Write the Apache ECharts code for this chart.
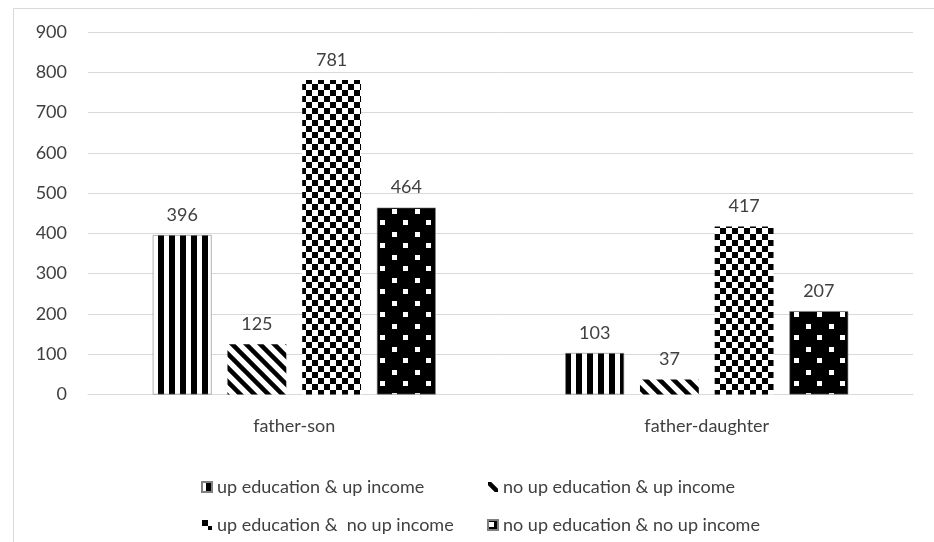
<!DOCTYPE html>
<html>
<head>
<meta charset="utf-8">
<script src="https://cdn.jsdelivr.net/npm/echarts@6/dist/echarts.min.js"></script>
<style>
  html, body { margin: 0; padding: 0; background: #fff; }
  #chart { width: 934px; height: 542px; }
</style>
</head>
<body>
<div id="chart"></div>
<script>
// data
var categories = ['father-son', 'father-daughter'];
var seriesNames = [
  'up education & up income',
  'no up education & up income',
  'up education &  no up income',
  'no up education & no up income'
];
var upEduUpInc = [396, 103];
var noEduUpInc = [125, 37];
var upEduNoInc = [781, 417];
var noEduNoInc = [464, 207];

// pattern tiles (anchored to the canvas origin, like Excel)
function tile(w, h, draw) {
  var c = document.createElement('canvas');
  c.width = w; c.height = h;
  var ctx = c.getContext('2d');
  ctx.fillStyle = '#fff';
  ctx.fillRect(0, 0, w, h);
  draw(ctx);
  return { image: c, repeat: 'repeat' };
}
var stripes = tile(11, 11, function (ctx) {
  ctx.fillStyle = '#000';
  ctx.fillRect(4, 0, 6, 11);
});
var diagonal = tile(14, 14, function (ctx) {
  ctx.strokeStyle = '#000';
  ctx.lineWidth = 4.5;
  ctx.beginPath();
  ctx.moveTo(-14, -14); ctx.lineTo(28, 28);
  ctx.moveTo(-14, 0); ctx.lineTo(14, 28);
  ctx.moveTo(0, -14); ctx.lineTo(28, 14);
  ctx.stroke();
});
var checker = tile(12, 12, function (ctx) {
  ctx.fillStyle = '#000';
  ctx.fillRect(0, 0, 6, 6);
  ctx.fillRect(6, 6, 6, 6);
});
var dots = tile(23, 23, function (ctx) {
  ctx.fillStyle = '#000';
  ctx.fillRect(0, 0, 23, 23);
  ctx.fillStyle = '#fff';
  ctx.fillRect(1, 2, 5, 5);
  ctx.fillRect(12, 13, 5, 5);
});

var fills = [stripes, diagonal, checker, dots];
var values = [upEduUpInc, noEduUpInc, upEduNoInc, noEduNoInc];
var font = 'Lato';

var series = values.map(function (v, i) {
  return {
    name: seriesNames[i],
    type: 'bar',
    data: v,
    barGap: '27%',
    barCategoryGap: '31.4%',
    itemStyle: {
      color: fills[i],
      borderColor: (i === 0 || i === 3) ? '#808080' : 'transparent',
      borderWidth: (i === 0 || i === 3) ? 0.6 : 0
    },
    label: {
      show: true,
      position: 'top',
      distance: 11,
      color: '#404040',
      fontFamily: font,
      fontSize: 18
    },
    emphasis: { disabled: true }
  };
});

var legendText = { color: '#404040', fontFamily: font, fontSize: 18, lineHeight: 20 };

var chart = echarts.init(document.getElementById('chart'));
chart.setOption({
  animation: false,
  backgroundColor: '#fff',
  graphic: [{
    type: 'rect',
    z: -10,
    shape: { x: 13.5, y: 8.5, width: 1000, height: 1000 },
    style: { fill: 'none', stroke: '#d9d9d9', lineWidth: 1 }
  }],
  grid: { left: 88, right: 21, top: 32, bottom: 147.5 },
  legend: [{
    orient: 'vertical',
    left: 196,
    top: 472,
    itemGap: 18,
    itemWidth: 10,
    itemHeight: 10,
    itemTextGap: 6,
    icon: 'rect',
    data: [seriesNames[0], seriesNames[2]],
    textStyle: legendText
  }, {
    orient: 'vertical',
    left: 482,
    top: 472,
    itemGap: 18,
    itemWidth: 10,
    itemHeight: 10,
    itemTextGap: 6,
    icon: 'rect',
    data: [seriesNames[1], seriesNames[3]],
    textStyle: legendText
  }],
  xAxis: {
    type: 'category',
    data: categories,
    axisTick: { show: false },
    axisLine: { lineStyle: { color: '#d9d9d9', width: 1 } },
    axisLabel: { color: '#404040', fontFamily: font, fontSize: 18, margin: 23 }
  },
  yAxis: {
    type: 'value',
    min: 0,
    max: 900,
    interval: 100,
    axisLine: { show: false },
    axisTick: { show: false },
    splitLine: { lineStyle: { color: '#d9d9d9', width: 1 } },
    axisLabel: { color: '#404040', fontFamily: font, fontSize: 18, margin: 21 }
  },
  series: series
});
</script>
</body>
</html>
